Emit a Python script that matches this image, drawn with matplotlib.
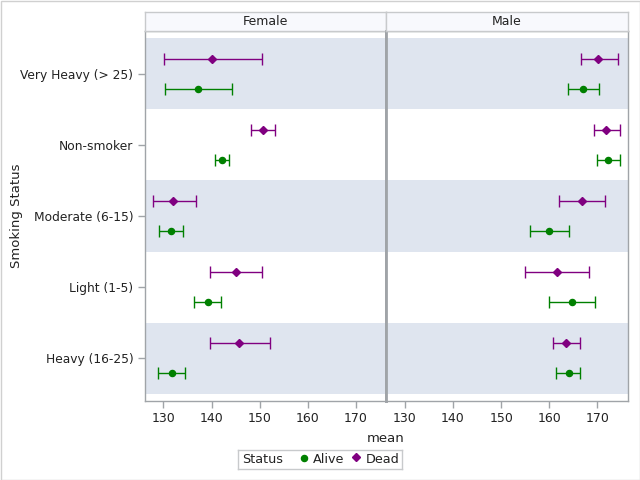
import matplotlib
matplotlib.use("Agg")
import matplotlib.pyplot as plt
from matplotlib.patches import Rectangle

categories = ["Very Heavy (> 25)", "Non-smoker", "Moderate (6-15)", "Light (1-5)", "Heavy (16-25)"]
panels = ["Female", "Male"]

# mean, lower, upper per category (order as categories)
female_alive_mean = [137.1, 142.1, 131.5, 139.2, 131.7]
female_alive_low  = [130.3, 140.7, 129.0, 136.3, 128.8]
female_alive_high = [144.2, 143.6, 134.0, 141.9, 134.4]
female_dead_mean  = [140.1, 150.6, 132.0, 145.0, 145.8]
female_dead_low   = [130.1, 148.2, 127.8, 139.6, 139.6]
female_dead_high  = [150.4, 153.1, 136.7, 150.4, 152.1]

male_alive_mean = [167.1, 172.3, 160.0, 164.8, 164.0]
male_alive_low  = [163.8, 170.0, 156.1, 160.0, 161.5]
male_alive_high = [170.4, 174.6, 164.2, 169.6, 166.3]
male_dead_mean  = [170.1, 171.8, 166.8, 161.6, 163.5]
male_dead_low   = [166.5, 169.2, 162.1, 155.0, 160.8]
male_dead_high  = [174.2, 174.6, 171.5, 168.3, 166.3]

xticks = [130, 140, 150, 160, 170]

data = {
    "Female": {"Alive": (female_alive_mean, female_alive_low, female_alive_high),
               "Dead": (female_dead_mean, female_dead_low, female_dead_high)},
    "Male": {"Alive": (male_alive_mean, male_alive_low, male_alive_high),
             "Dead": (male_dead_mean, male_dead_low, male_dead_high)},
}

GREEN = "#008000"
PURPLE = "#800080"
BAND = "#DFE5EF"
SPINE = "#A0A4A8"
TXT = "#222222"

W, H = 640, 480
fig = plt.figure(figsize=(6.4, 4.8), dpi=100)
fig.patch.set_facecolor("white")
fig.add_artist(Rectangle((0.5 / W, 0.5 / H), 1 - 1.0 / W, 1 - 1.0 / H, transform=fig.transFigure,
                         fill=False, edgecolor="#D0D0D0", linewidth=1.0))

def px(x0, y0, x1, y1):
    return [x0 / W, 1 - y1 / H, (x1 - x0) / W, (y1 - y0) / H]

panel_x = [(144.5, 386.0), (386.0, 627.5)]
top, bottom = 31, 401
header_top = 12
xlim = (126.07, 176.26)
ylim = (4.6, -0.6)
off = 0.21

for i, name in enumerate(panels):
    x0, x1 = panel_x[i]
    ax = fig.add_axes(px(x0, top, x1, bottom))
    ax.set_xlim(*xlim)
    ax.set_ylim(*ylim)
    for k in range(0, len(categories), 2):
        ax.axhspan(k - 0.5, k + 0.5, color=BAND, zorder=0, linewidth=0)
    ys = list(range(len(categories)))
    for status, color, marker, ms, dy in [("Dead", PURPLE, "D", 4.0, -off), ("Alive", GREEN, "o", 4.4, off)]:
        m, lo, hi = data[name][status]
        yy = [y + dy for y in ys]
        xerr = [[mm - l for mm, l in zip(m, lo)], [h - mm for mm, h in zip(m, hi)]]
        ax.errorbar(m, yy, xerr=xerr, fmt=marker, color=color, ms=ms, mec=color,
                    ecolor=color, elinewidth=1.0, capsize=4.2, capthick=1.0, zorder=3)
    ax.set_xticks(xticks)
    ax.set_xticklabels([str(t) for t in xticks], fontsize=9, color=TXT)
    ax.tick_params(axis="x", length=5, color=SPINE, width=1, pad=3)
    for s in ax.spines.values():
        s.set_color(SPINE)
        s.set_linewidth(1.0)
    if i == 0:
        ax.set_yticks(ys)
        ax.set_yticklabels(categories, fontsize=8.8, color=TXT)
        ax.tick_params(axis="y", length=5, color=SPINE, width=1, pad=3)
        ax.spines["right"].set_linewidth(2.0)
    else:
        ax.set_yticks([])
        ax.spines["left"].set_linewidth(2.0)
    # header
    hx = fig.add_axes(px(x0, header_top, x1, top))
    hx.set_facecolor("#F8F9FD")
    hx.set_xticks([])
    hx.set_yticks([])
    for s in hx.spines.values():
        s.set_color("#C8CACC")
        s.set_linewidth(1.0)
    hx.text(0.5, 0.48, name, ha="center", va="center", fontsize=9, color=TXT, transform=hx.transAxes)

fig.text(17 / W, 1 - 216 / H, "Smoking Status", rotation=90, ha="center", va="center",
         fontsize=9.5, color=TXT)
fig.text(385.5 / W, 1 - 438 / H, "mean", ha="center", va="center", fontsize=9.5, color=TXT)

# legend
lx = fig.add_axes(px(237.5, 449.5, 401.5, 468.5))
lx.set_xlim(237.5, 401.5)
lx.set_ylim(0, 1)
lx.set_xticks([])
lx.set_yticks([])
for s in lx.spines.values():
    s.set_color("#C8CACC")
    s.set_linewidth(1.0)
lx.text(242, 0.45, "Status", ha="left", va="center", fontsize=9.2, color=TXT)
lx.plot([303.5], [0.57], "o", color=GREEN, ms=4.4)
lx.text(313, 0.45, "Alive", ha="left", va="center", fontsize=9.2, color=TXT)
lx.plot([355.5], [0.6], "D", color=PURPLE, ms=4.0)
lx.text(366, 0.45, "Dead", ha="left", va="center", fontsize=9.2, color=TXT)

fig.savefig("out.png", dpi=100)
